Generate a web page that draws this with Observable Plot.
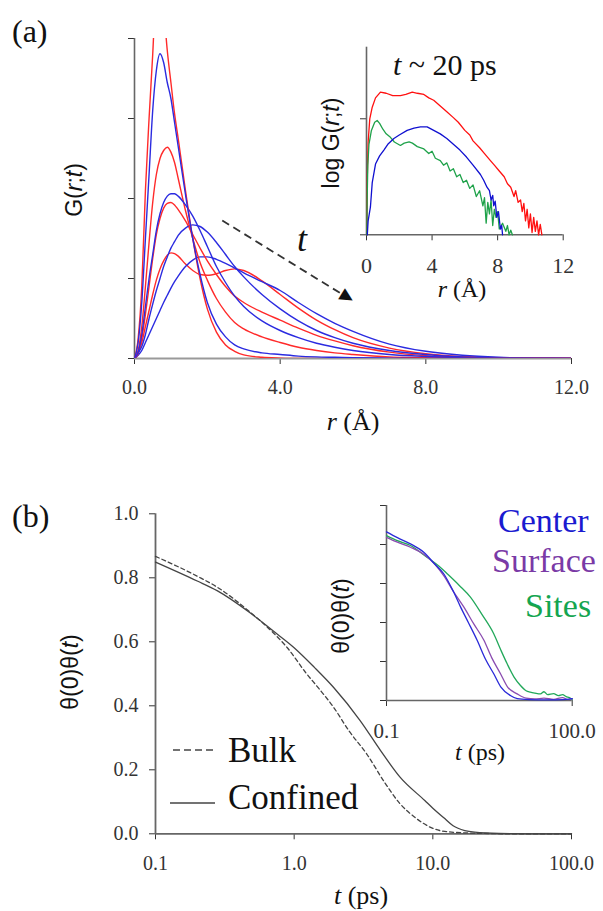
<!DOCTYPE html>
<html><head><meta charset="utf-8">
<script src="https://cdn.jsdelivr.net/npm/d3@7"></script>
<script src="https://cdn.jsdelivr.net/npm/@observablehq/plot@0.6"></script>
<style>
html,body{margin:0;padding:0;background:#fff;}
#fig{position:relative;width:603px;height:911px;overflow:hidden;background:#fff;}
.layer{position:absolute;left:0;}
.lab{position:absolute;white-space:nowrap;line-height:1;color:#111;}
.serif{font-family:"Liberation Serif","DejaVu Serif","Noto Serif",serif;}
.sans{font-family:"Liberation Sans",Arial,sans-serif;}
</style></head><body><div id="fig"></div>
<script>
// ---------- Panel (a) main: G(r;t) ----------
const rGrid = [0,0.1,0.2,0.3,0.4,0.5,0.6,0.7,0.8,0.9,1.0,1.1,1.2,1.4,1.6,1.8,2.0,2.25,2.5,2.75,3.0,3.5,4,4.5,5,5.5,6,7,8,9,10,11,12];
const redG1 = [0,0.25,0.9,2.1,3.0,3.8,4.7,4.9,4.4,3.85,3.45,3.06,2.75,2.1,1.5,1.0,0.62,0.33,0.17,0.09,0.045,0.015,0.005,0,0,0,0,0,0,0,0,0,0];
const blueG1 = [0,0.2,0.7,1.5,2.3,3.1,3.6,3.81,3.7,3.45,3.25,2.95,2.65,2.05,1.5,1.05,0.7,0.43,0.27,0.17,0.12,0.07,0.05,0.03,0.02,0.015,0.01,0.005,0,0,0,0,0];
const redG2 = [0,0.1,0.4,0.9,1.45,1.95,2.3,2.5,2.6,2.64,2.58,2.45,2.25,1.85,1.5,1.2,0.98,0.75,0.58,0.45,0.37,0.27,0.2,0.14,0.1,0.07,0.05,0.02,0.01,0,0,0,0];
const blueG2 = [0,0.08,0.3,0.65,1.0,1.3,1.6,1.81,1.95,2.03,2.06,2.06,2.03,1.92,1.78,1.6,1.4,1.15,0.95,0.78,0.65,0.47,0.35,0.26,0.19,0.14,0.1,0.05,0.025,0.01,0.005,0,0];
const redG3 = [0,0.06,0.25,0.55,0.9,1.25,1.55,1.75,1.88,1.94,1.95,1.92,1.86,1.72,1.55,1.38,1.22,1.05,0.9,0.78,0.7,0.58,0.48,0.38,0.29,0.22,0.16,0.08,0.035,0.015,0.005,0,0];
const blueG3 = [0,0.07,0.15,0.3,0.5,0.68,0.85,1.0,1.15,1.27,1.38,1.46,1.54,1.63,1.67,1.65,1.58,1.45,1.3,1.15,1.02,0.8,0.62,0.47,0.35,0.26,0.19,0.1,0.05,0.02,0.01,0.005,0];
const redG4 = [0,0.08,0.2,0.4,0.6,0.8,0.98,1.12,1.22,1.29,1.32,1.31,1.28,1.18,1.1,1.05,1.04,1.06,1.1,1.12,1.1,0.97,0.8,0.63,0.48,0.36,0.26,0.13,0.06,0.025,0.01,0.004,0];
const blueG4 = [0,0.04,0.1,0.2,0.3,0.4,0.5,0.6,0.7,0.79,0.88,0.96,1.03,1.15,1.23,1.27,1.27,1.24,1.19,1.13,1.07,0.96,0.85,0.7,0.56,0.44,0.34,0.18,0.09,0.04,0.015,0.005,0];
const xTicksA = [0,4,8,12];
const yTicksA = [0,1,2,3,4];
// time arrow annotation (data units)
const arrowA = [{r1:2.41, g1:1.725, r2:5.82, g2:0.77}];
const arrowHeadA = [{r:5.86, g:0.76}];

// ---------- Panel (a) inset: log G(r;t) at t ~ 20 ps ----------
const insRedR = [0.02,0.05,0.1,0.2,0.35,0.55,0.85,1.2,1.6,2.07,2.4,2.79,3.1,3.5,3.8,4.1,4.5,4.9,5.3,5.6,6.0,6.3,6.5,6.9,7.2,7.56,7.8,8.1,8.4,8.6,8.8,9.0,9.1,9.25,9.4,9.5,9.6,9.7,9.8,9.9,10.0,10.1,10.2,10.3,10.4,10.5,10.6,10.7];
const insRedG = [0.0,0.5,0.8,1.0,1.1,1.18,1.23,1.22,1.2,1.2,1.21,1.23,1.22,1.21,1.18,1.16,1.11,1.06,1.01,0.97,0.9,0.86,0.81,0.75,0.7,0.64,0.6,0.55,0.5,0.44,0.41,0.33,0.38,0.28,0.3,0.2,0.27,0.12,0.22,0.06,0.18,0.02,0.15,0.03,0.12,0.0,0.09,0.0];
const insGreenR = [0.02,0.04,0.08,0.15,0.3,0.5,0.65,0.8,1.0,1.2,1.46,1.7,2.07,2.3,2.6,2.8,3.1,3.5,3.8,4.0,4.2,4.5,4.7,4.9,5.1,5.3,5.5,5.7,5.9,6.1,6.3,6.5,6.7,6.9,7.1,7.2,7.3,7.4,7.5,7.6,7.7,7.8,7.9,8.0,8.1,8.3,8.5,8.6,8.7,8.8,8.9];
const insGreenG = [0.0,0.3,0.6,0.78,0.9,0.97,0.985,0.96,0.91,0.87,0.84,0.8,0.77,0.79,0.8,0.79,0.76,0.74,0.7,0.72,0.66,0.64,0.6,0.62,0.55,0.57,0.5,0.52,0.45,0.47,0.4,0.43,0.33,0.38,0.25,0.32,0.1,0.28,0.18,0.3,0.08,0.22,0.15,0.2,0.05,0.1,0.03,0.08,0.0,0.04,0.0];
const insBlueR = [0.05,0.1,0.24,0.35,0.55,0.8,1.06,1.3,1.67,2.0,2.48,2.9,3.29,3.7,4.1,4.5,4.9,5.3,5.7,6.1,6.5,6.95,7.15,7.35,7.5,7.6,7.7,7.76,7.85,7.95,8.05,8.17,8.25,8.3];
const insBlueG = [0.0,0.12,0.24,0.45,0.61,0.68,0.73,0.78,0.83,0.86,0.9,0.92,0.93,0.93,0.9,0.87,0.83,0.78,0.73,0.67,0.6,0.52,0.47,0.41,0.38,0.3,0.34,0.25,0.29,0.15,0.2,0.05,0.08,0.0];
const xTicksInsA = [0,4,8,12];
const yTicksInsA = [0,1];

// ---------- Panel (b) main: θ(0)θ(t) ----------
const bulkT = [0.1,0.2,0.278,0.483,0.7,0.886,1.23,1.5,1.92,2.5,3.33,4.5,5.8,7.5,10,13,20,40,100];
const bulkV = [0.867,0.805,0.771,0.692,0.63,0.583,0.5,0.455,0.396,0.32,0.25,0.16,0.094,0.05,0.017,0.006,0.002,0,0];
const confT = [0.1,0.2,0.278,0.483,0.7,0.99,1.4,1.92,2.99,4.2,5.8,8.75,10,12,14,17,20,30,50,100];
const confV = [0.849,0.79,0.76,0.69,0.635,0.583,0.52,0.458,0.354,0.26,0.177,0.104,0.08,0.05,0.025,0.01,0.005,0.001,0,0];
const xTicksB = [0.1,1,10,100];
const yTicksB = [0,0.2,0.4,0.6,0.8,1.0];

// ---------- Panel (b) inset: Center / Surface / Sites ----------
const centerT = [0.1,0.15,0.244,0.4,0.6,0.84,1.2,1.57,2.1,2.9,4,5.4,7,10,13,20,40,70,100];
const centerV = [0.865,0.835,0.803,0.76,0.7,0.65,0.56,0.48,0.4,0.31,0.21,0.137,0.07,0.026,0.01,0.005,0.003,0.005,0.01];
const surfaceT = [0.1,0.15,0.244,0.4,0.6,0.84,1.2,1.77,2.6,3.73,5,6.95,9,12.9,18,25,35,50,70,85,100];
const surfaceV = [0.837,0.812,0.786,0.75,0.7,0.64,0.56,0.48,0.39,0.31,0.22,0.137,0.07,0.034,0.012,0.008,0.012,0.006,0.015,0.005,0.01];
const sitesT = [0.1,0.15,0.244,0.45,0.7,0.955,1.5,2.27,3.5,5.4,7,8.9,11.5,14.6,18,21,25,30.7,35,40,50,60,70,80,90,100];
const sitesV = [0.846,0.82,0.795,0.735,0.69,0.65,0.59,0.53,0.44,0.342,0.26,0.188,0.12,0.077,0.05,0.043,0.038,0.034,0.045,0.03,0.035,0.025,0.03,0.02,0.015,0.005];
const xTicksInsB = [0.1,100];
const yTicksInsB = [0,0.2,0.4,0.6,0.8,1.0];

// ---------- helpers ----------
const fig = document.getElementById("fig");
const SERIF = '"Liberation Serif","DejaVu Serif","Noto Serif",serif';
const zip = (xs, ys, kx, ky) => xs.map((x, i) => ({[kx]: x, [ky]: ys[i]}));
function place(svg, top) {
  const d = document.createElement("div");
  d.className = "layer"; d.style.top = top + "px";
  d.append(svg); fig.append(d);
}
function label(html, x, y, o) {
  const d = document.createElement("div");
  d.className = "lab " + (o.font || "serif");
  d.innerHTML = html;
  d.style.left = x + "px"; d.style.top = y + "px";
  d.style.fontSize = o.size + "px";
  if (o.color) d.style.color = o.color;
  const ax = o.anchor === "start" ? "0" : o.anchor === "end" ? "-100%" : "-50%";
  d.style.transform = `translate(${ax},-50%)` + (o.rotate ? ` rotate(${o.rotate}deg)` : "");
  fig.append(d);
}
const RED = "#ff2a2a", BLUE = "#2b2be0";
const axisCol = "#666";

// ---------- Plot (a) main ----------
const gLine = (vals, color) => Plot.line(zip(rGrid, vals, "r", "g"), {x: "r", y: "g", stroke: color, strokeWidth: 1.4, curve: "monotone-x", clip: true});
const plotA = Plot.plot({
  width: 603, height: 440,
  marginLeft: 134, marginRight: 32, marginTop: 38, marginBottom: 82,
  style: {background: "transparent", fontFamily: SERIF, fontSize: "20px", color: "#333"},
  x: {domain: [0, 12], ticks: xTicksA, tickFormat: d => d.toFixed(1), tickSize: 6, tickPadding: 15, label: null},
  y: {domain: [0, 4], ticks: yTicksA, tickFormat: () => "", tickSize: 6, label: null},
  marks: [
    Plot.ruleY([0], {stroke: "#999", strokeWidth: 2}),
    Plot.ruleX([0], {stroke: axisCol, strokeWidth: 1.6}),
    gLine(redG4, RED), gLine(blueG4, BLUE),
    gLine(redG3, RED), gLine(blueG3, BLUE),
    gLine(redG2, RED), gLine(blueG2, BLUE),
    gLine(redG1, RED), gLine(blueG1, BLUE),
    Plot.link(arrowA, {x1: "r1", y1: "g1", x2: "r2", y2: "g2", stroke: "#333", strokeWidth: 1.8, strokeDasharray: "8,5"}),
    Plot.text(arrowHeadA, {x: "r", y: "g", text: () => "\u25B2", rotate: 121.5, fontSize: 17, fill: "#111", fontFamily: "DejaVu Sans", lineAnchor: "middle", textAnchor: "middle"})
  ]
});
place(plotA, 0);

// ---------- Plot (a) inset ----------
const plotAi = Plot.plot({
  width: 603, height: 320,
  marginLeft: 366, marginRight: 40.3, marginTop: 46.7, marginBottom: 85.7,
  style: {background: "transparent", fontFamily: SERIF, fontSize: "22px", color: "#333"},
  x: {domain: [0, 12], ticks: xTicksInsA, tickFormat: d => String(d), tickSize: 6, tickPadding: 17, label: null},
  y: {domain: [0, 1.617], ticks: yTicksInsA, tickFormat: () => "", tickSize: 6, label: null},
  marks: [
    Plot.ruleY([0], {stroke: axisCol, strokeWidth: 1.6}),
    Plot.ruleX([0], {stroke: axisCol, strokeWidth: 1.6}),
    Plot.line(zip(insRedR, insRedG, "r", "g"), {x: "r", y: "g", stroke: "#ff1010", strokeWidth: 1.3}),
    Plot.line(zip(insGreenR, insGreenG, "r", "g"), {x: "r", y: "g", stroke: "#1fa24a", strokeWidth: 1.3}),
    Plot.line(zip(insBlueR, insBlueG, "r", "g"), {x: "r", y: "g", stroke: "#1010d0", strokeWidth: 1.3})
  ]
});
place(plotAi, 0);

// ---------- Plot (b) main ----------
const plotB = Plot.plot({
  width: 603, height: 431,
  marginLeft: 155, marginRight: 32, marginTop: 33.3, marginBottom: 77.7,
  style: {background: "transparent", fontFamily: SERIF, fontSize: "20px", color: "#333"},
  x: {type: "log", domain: [0.1, 100], ticks: xTicksB, tickFormat: d => d.toFixed(1), tickSize: 6, tickPadding: 16, label: null},
  y: {domain: [0, 1], ticks: yTicksB, tickFormat: d => d.toFixed(1), tickSize: 6, tickPadding: 11, label: null},
  marks: [
    Plot.ruleY([0], {stroke: axisCol, strokeWidth: 1.8}),
    Plot.ruleX([0.1], {stroke: axisCol, strokeWidth: 1.8}),
    Plot.line(zip(bulkT, bulkV, "t", "v"), {x: "t", y: "v", stroke: "#444", strokeWidth: 1.3, strokeDasharray: "4,3", curve: "monotone-x"}),
    Plot.line(zip(confT, confV, "t", "v"), {x: "t", y: "v", stroke: "#444", strokeWidth: 1.3, curve: "monotone-x"})
  ]
});
place(plotB, 480);

// ---------- Plot (b) inset ----------
const plotBi = Plot.plot({
  width: 603, height: 300,
  marginLeft: 386, marginRight: 31.3, marginTop: 25, marginBottom: 80,
  style: {background: "transparent", fontFamily: SERIF, fontSize: "21px", color: "#333"},
  x: {type: "log", domain: [0.1, 100], ticks: xTicksInsB, tickFormat: d => d.toFixed(1), tickSize: 6, tickPadding: 17, label: null},
  y: {domain: [0, 1], ticks: yTicksInsB, tickFormat: () => "", tickSize: 6, label: null},
  marks: [
    Plot.ruleY([0], {stroke: axisCol, strokeWidth: 1.6}),
    Plot.ruleX([0.1], {stroke: axisCol, strokeWidth: 1.6}),
    Plot.line(zip(sitesT, sitesV, "t", "v"), {x: "t", y: "v", stroke: "#22a85a", strokeWidth: 1.3, curve: "monotone-x"}),
    Plot.line(zip(surfaceT, surfaceV, "t", "v"), {x: "t", y: "v", stroke: "#8a4cb0", strokeWidth: 1.3, curve: "monotone-x"}),
    Plot.line(zip(centerT, centerV, "t", "v"), {x: "t", y: "v", stroke: "#2a2ad8", strokeWidth: 1.3, curve: "monotone-x"})
  ]
});
place(plotBi, 480);

// ---------- legend swatches for (b) ----------
const leg = document.createElementNS("http://www.w3.org/2000/svg", "svg");
leg.setAttribute("width", 60); leg.setAttribute("height", 70);
leg.style.position = "absolute"; leg.style.left = "165px"; leg.style.top = "740px";
leg.innerHTML = '<line x1="8" y1="10" x2="52" y2="10" stroke="#444" stroke-width="1.4" stroke-dasharray="7,4"/>' +
  '<line x1="5" y1="63" x2="50" y2="63" stroke="#444" stroke-width="1.4"/>';
fig.append(leg);

// ---------- text ----------
label("(a)", 12, 31, {size: 32, anchor: "start"});
label('G(<i>r</i>;<i>t</i>)', 74, 190, {size: 23, font: "sans", rotate: -90});
label('<i>r</i> (Å)', 353, 422, {size: 26});
label('<i>t</i>', 302, 239, {size: 36});
label('<i>t</i> ~ 20 ps', 393, 65, {size: 30, anchor: "start"});
label('log G(<i>r</i>;<i>t</i>)', 331, 143, {size: 23, font: "sans", rotate: -90});
label('<i>r</i> (Å)', 462, 289, {size: 24});
label("(b)", 12, 516, {size: 32, anchor: "start"});
label('θ(0)θ(<i>t</i>)', 70, 672, {size: 23, font: "sans", rotate: -90});
label('<i>t</i> (ps)', 361, 896, {size: 26});
label("Bulk", 228, 750, {size: 35, anchor: "start"});
label("Confined", 228, 797, {size: 35, anchor: "start"});
label('θ(0)θ(<i>t</i>)', 341, 616, {size: 23, font: "sans", rotate: -90});
label('<i>t</i> (ps)', 480, 752, {size: 24});
label("Center", 498, 521, {size: 34, anchor: "start", color: "#1a1ad0"});
label("Surface", 492, 561, {size: 34, anchor: "start", color: "#7a3aa6"});
label("Sites", 525, 606, {size: 34, anchor: "start", color: "#14a550"});
</script></body></html>
